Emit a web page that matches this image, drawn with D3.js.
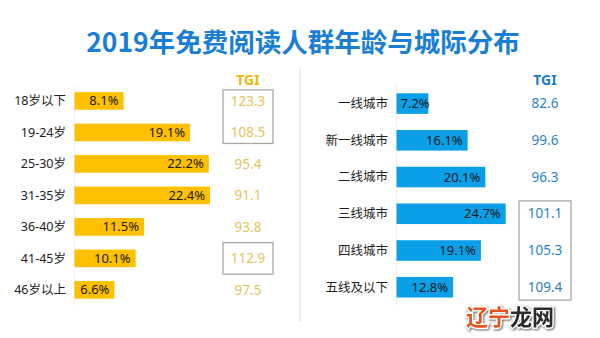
<!DOCTYPE html>
<html><head><meta charset="utf-8">
<script src="https://cdn.jsdelivr.net/npm/d3@7"></script>
<style>body{margin:0;background:#fff}svg{display:block}</style>
</head><body>
<svg id="c" width="600" height="338"></svg>
<script>
const title = "2019年免费阅读人群年龄与城际分布";
const ageCats = ["18岁以下","19-24岁","25-30岁","31-35岁","36-40岁","41-45岁","46岁以上"];
const ageShare = [8.1, 19.1, 22.2, 22.4, 11.5, 10.1, 6.6];
const ageTGI = [123.3, 108.5, 95.4, 91.1, 93.8, 112.9, 97.5];
const cityCats = ["一线城市","新一线城市","二线城市","三线城市","四线城市","五线及以下"];
const cityShare = [7.2, 16.1, 20.1, 24.7, 19.1, 12.8];
const cityTGI = [82.6, 99.6, 96.3, 101.1, 105.3, 109.4];
const tgiHeader = "TGI";
const watermark = ["辽宁","龙网"];

const svg = d3.select("#c");
const F = "'Noto Sans','Noto Sans CJK SC',sans-serif";

svg.append("text").attr("x",303).attr("y",52).attr("text-anchor","middle")
  .attr("font-family","'Noto Sans CJK SC',sans-serif").attr("font-weight","bold")
  .attr("font-size",26.5).attr("fill","#1a7fd4").text(title);

svg.append("line").attr("x1",300).attr("x2",300).attr("y1",68).attr("y2",322)
  .attr("stroke","#e8e8e8").attr("stroke-width",1.5);

function panel(o){
  const y = d3.scaleBand().domain(o.cats).range([85.2,305.6]).paddingInner(0.44).paddingOuter(0.22);
  const x = d3.scaleLinear().domain([0,25]).range([o.x0, o.x0 + o.k*25]);
  const g = svg.append("g");
  g.append("line").attr("x1",o.x0).attr("x2",o.x0).attr("y1",y.range()[0]).attr("y2",y.range()[1])
    .attr("stroke","#efefef").attr("stroke-width",1);
  g.selectAll(".cl").data(o.cats).join("text")
    .attr("x",o.labelX).attr("y",d=>y(d)+y.bandwidth()/2).attr("dy","0.35em")
    .attr("text-anchor","end").attr("font-family",F).attr("font-size",12.5).attr("fill","#222")
    .text(d=>d);
  g.selectAll("rect.b").data(o.vals).join("rect")
    .attr("x",x(0)).attr("y",(d,i)=>y(o.cats[i])).attr("height",y.bandwidth())
    .attr("width",d=>x(d)-x(0)).attr("fill",o.color);
  const vt = g.selectAll(".vl").data(o.vals).join("text")
    .attr("y",(d,i)=>y(o.cats[i])+y.bandwidth()/2).attr("dy","0.35em")
    .attr("text-anchor","end").attr("font-family",F).attr("font-size",13).attr("fill","#1a1a1a")
    .text(d=>d.toFixed(1)+"%");
  vt.each(function(d){
    const w = this.getComputedTextLength();
    d3.select(this).attr("x", Math.max(x(d)-5, x(0)+4+w));
  });
  g.append("text").attr("x",o.tx).attr("y",85).attr("text-anchor","middle")
    .attr("font-family",F).attr("font-weight","bold").attr("font-size",14).attr("fill",o.hColor).text(tgiHeader);
  g.selectAll(".tv").data(o.tgi).join("text")
    .attr("x",o.tx).attr("y",(d,i)=>y(o.cats[i])+y.bandwidth()/2).attr("dy","0.35em")
    .attr("text-anchor","middle").attr("font-family",F).attr("font-size",13.5).attr("fill",o.tColor)
    .text(d=>d.toFixed(1));
  const groups=[]; let cur=null;
  o.tgi.forEach((v,i)=>{ if(v>100){ if(cur) cur.push(i); else {cur=[i]; groups.push(cur);} } else cur=null; });
  const step=y.step();
  groups.forEach(gr=>{
    const pad = gr.length===1 ? step*0.5 : step*0.35;
    const c0 = y(o.cats[gr[0]])+y.bandwidth()/2, c1 = y(o.cats[gr[gr.length-1]])+y.bandwidth()/2;
    g.append("rect").attr("x",o.tx-o.bw/2).attr("width",o.bw)
      .attr("y",c0-pad).attr("height",c1-c0+2*pad)
      .attr("fill","none").attr("stroke","#a8a8a8").attr("stroke-width",1.3);
  });
}

panel({cats:ageCats, vals:ageShare, tgi:ageTGI, x0:74.5, k:6.05, labelX:66, color:"#ffc000",
  tx:248, bw:50, hColor:"#f2b705", tColor:"#e5c35a"});
panel({cats:cityCats, vals:cityShare, tgi:cityTGI, x0:396.5, k:4.42, labelX:388, color:"#0a9fe6",
  tx:545, bw:52, hColor:"#1c7ccc", tColor:"#2a84c6"});

const wm = svg.append("text").attr("x",466).attr("y",325)
  .attr("font-family","'Noto Sans CJK SC',sans-serif").attr("font-weight","bold").attr("font-size",22)
  .attr("stroke","#fff").attr("stroke-width",3).attr("paint-order","stroke")
  .style("filter","drop-shadow(1px 1px 1px rgba(0,0,0,0.6))");
wm.append("tspan").attr("fill","#e5531f").text(watermark[0]);
wm.append("tspan").attr("fill","#2b2b2b").text(watermark[1]);
</script>
</body></html>
